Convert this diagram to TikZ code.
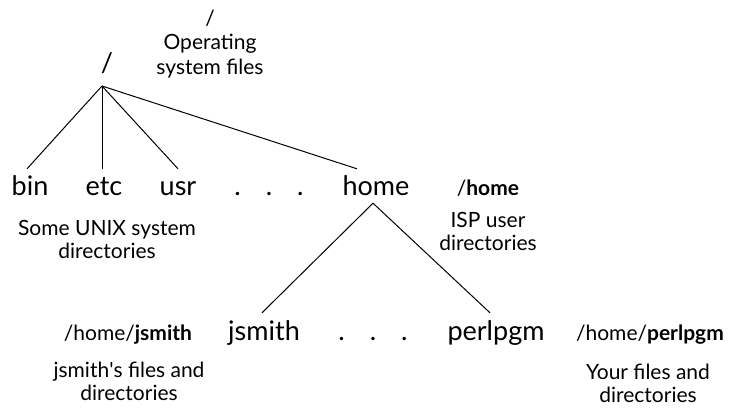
\documentclass[tikz,border=0pt]{standalone}
\usepackage{fontspec}
\setmainfont{Lato}
\begin{document}
\begin{tikzpicture}[x=1pt,y=-1pt,
  dir/.style={font=\fontsize{27}{30}\selectfont, inner sep=0pt, text height=20pt, text depth=0pt, anchor=base},
  note/.style={font=\fontsize{21}{24}\selectfont, inner sep=0pt, anchor=base},
  edge/.style={line width=1pt}]
\useasboundingbox (0,0) rectangle (729,408);

% root of the tree
\node[dir] (root) at (107,72) {/};
\coordinate (fork) at (102,86);
\node[note] (rootpath) at (210,25) {/};
\node[note] (rootdesc1) at (210,49) {Operating};
\node[note] (rootdesc2) at (210,74) {system files};

% first level
\node[dir] (bin) at (30,195) {bin};
\node[dir] (etc) at (104,195) {etc};
\node[dir] (usr) at (178,195) {usr};
\node[dir] (dots1) at (269,195) {.\hspace{25pt}.\hspace{25pt}.};
\node[dir] (home) at (376,195) {home};

\node[note] (sysdesc1) at (107,235) {Some UNIX system};
\node[note] (sysdesc2) at (107,258) {directories};

\node[note] (homepath) at (488,195) {/\textbf{home}};
\node[note] (homedesc1) at (488,227) {ISP user};
\node[note] (homedesc2) at (488,250) {directories};

% second level
\node[dir] (jsmith) at (264,340) {jsmith};
\node[dir] (dots2) at (373,340) {.\hspace{25pt}.\hspace{25pt}.};
\node[dir] (perlpgm) at (496,340) {perlpgm};

\node[note] (jpath) at (128,340) {/home/\textbf{jsmith}};
\node[note] (jdesc1) at (129,377) {jsmith\textquotesingle s files and};
\node[note] (jdesc2) at (129,400) {directories};

\node[note] (ppath) at (650,340) {/home/\textbf{perlpgm}};
\node[note] (pdesc1) at (648,379) {Your files and};
\node[note] (pdesc2) at (648,402) {directories};

% connectors
\draw[edge] (fork) -- ([xshift=-3pt,yshift=6pt]bin.north);
\draw[edge] (fork) -- ([xshift=-2pt,yshift=6pt]etc.north);
\draw[edge] (fork) -- ([yshift=6pt]usr.north);
\draw[edge] (fork) -- ([xshift=-19pt,yshift=6pt]home.north);
\draw[edge] ([xshift=-3pt,yshift=-8pt]home.south) -- ([xshift=-2pt,yshift=7pt]jsmith.north);
\draw[edge] ([xshift=-3pt,yshift=-8pt]home.south) -- ([xshift=-6pt,yshift=7pt]perlpgm.north);
\end{tikzpicture}
\end{document}
